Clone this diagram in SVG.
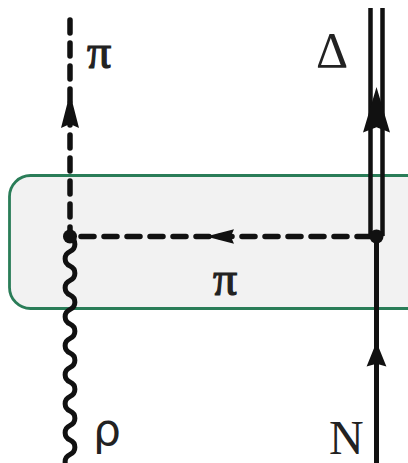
<svg xmlns="http://www.w3.org/2000/svg" width="408" height="463" viewBox="0 0 408 463">
<style>
.lbl{font-family:"Liberation Serif","Times New Roman",serif;fill:#222;}
.pi{stroke:#222;stroke-width:1.2;}
.sans{font-family:"DejaVu Sans","Liberation Sans",sans-serif;fill:#222;}
.dash{fill:none;stroke:#111;stroke-width:5.5;stroke-dasharray:13 10;stroke-linecap:round;}
.solid{fill:none;stroke:#111;stroke-width:5;}
.wave{fill:none;stroke:#111;stroke-width:5;}
.head{fill:#111;}
</style>
<defs>
<path id="ah" d="M0,0 L-9,35 L0,31 L9,35 Z"/>
</defs>
<g id="region">
<rect x="9.5" y="175.5" width="420" height="133" rx="21" fill="#f2f2f2" stroke="#2a7d58" stroke-width="2.8"/>
</g>
<g id="connectors">
<path class="dash" d="M70,20 V233"/>
<use href="#ah" class="head" transform="translate(70,93)"/>
<path class="dash" d="M370,236.5 H76"/>
<use href="#ah" class="head" transform="translate(206,236.5) rotate(-90) scale(0.8,0.8)"/>
<path class="solid" d="M370.5,8 V236 M382.5,8 V236" style="stroke-width:4.5"/>
<path d="M370.5,236 H382.5" class="solid" style="stroke-width:4"/>
<use href="#ah" class="head" transform="translate(376.5,87) scale(1.5,1.3)"/>
<path class="solid" d="M376.5,236 V463"/>
<use href="#ah" class="head" transform="translate(376.5,342) scale(1.1,0.7)"/>
<path class="wave" d="M70,237 c6.5,2.9 6.5,11.6 0,14.5 c-6.5,2.9 -6.5,11.6 0,14.5 c6.5,2.9 6.5,11.6 0,14.5 c-6.5,2.9 -6.5,11.6 0,14.5 c6.5,2.9 6.5,11.6 0,14.5 c-6.5,2.9 -6.5,11.6 0,14.5 c6.5,2.9 6.5,11.6 0,14.5 c-6.5,2.9 -6.5,11.6 0,14.5 c6.5,2.9 6.5,11.6 0,14.5 c-6.5,2.9 -6.5,11.6 0,14.5 c6.5,2.9 6.5,11.6 0,14.5 c-6.5,2.9 -6.5,11.6 0,14.5 c6.5,2.9 6.5,11.6 0,14.5 c-6.5,2.9 -6.5,11.6 0,14.5 c6.5,2.9 6.5,11.6 0,14.5 c-6.5,2.9 -6.5,11.6 0,14.5"/>
</g>
<g id="vertex-left"><circle cx="70" cy="236.5" r="7" fill="#111"/></g>
<g id="vertex-right"><circle cx="376.5" cy="236.5" r="7" fill="#111"/></g>
<g id="label-pi-out"><text class="lbl pi" x="87" y="68" font-size="48">π</text></g>
<g id="label-delta"><text class="lbl" x="316" y="67" font-size="50">Δ</text></g>
<g id="label-pi-exchange"><text class="lbl pi" x="213" y="295" font-size="48">π</text></g>
<g id="label-rho"><text class="sans" x="93" y="445" font-size="44">ρ</text></g>
<g id="label-N"><text class="lbl" x="329" y="454" font-size="48">N</text></g>
</svg>
